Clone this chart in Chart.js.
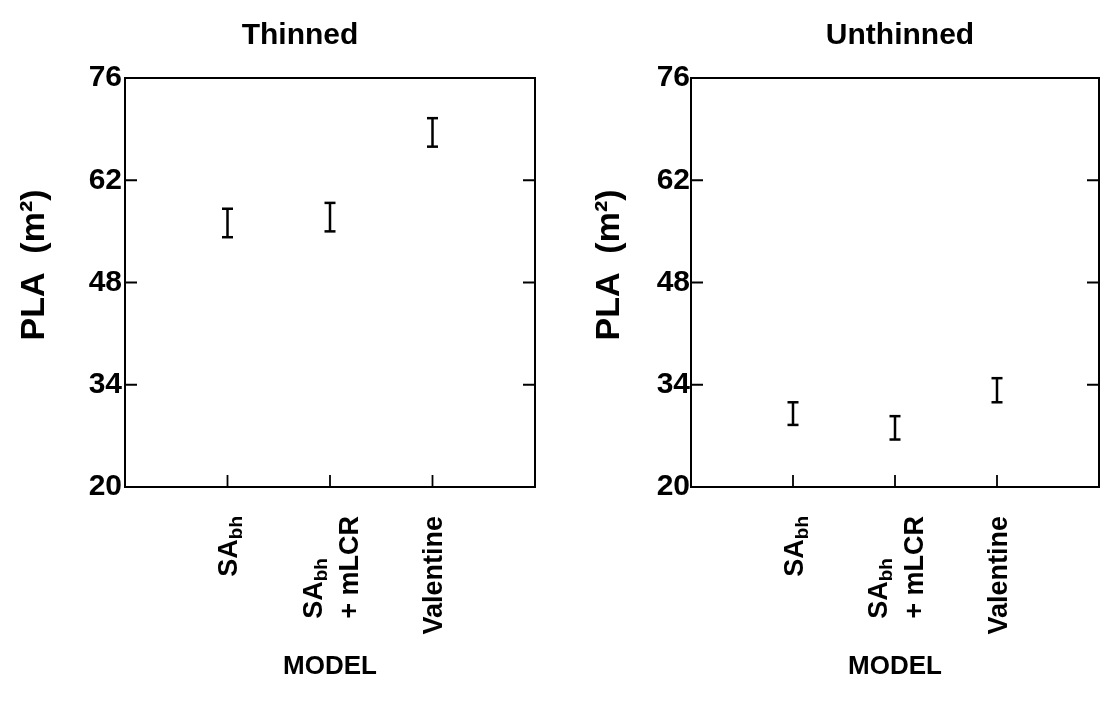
<!DOCTYPE html>
<html>
<head>
<meta charset="utf-8">
<script src="https://cdn.jsdelivr.net/npm/chart.js@4.4.1/dist/chart.umd.min.js"></script>
<style>
  html, body { margin: 0; padding: 0; background: #fff; }
  #wrap { position: relative; width: 1107px; height: 714px; }
  canvas { position: absolute; top: 0; }
</style>
</head>
<body>
<div id="wrap">
  <canvas id="left" width="553" height="714" style="left:0"></canvas>
  <canvas id="right" width="554" height="714" style="left:553px"></canvas>
</div>
<script>
// ---- data ----
const categories = [["SA_{bh}"], ["SA_{bh}", "+ mLCR"], ["Valentine"]];
const panelTitles = ["Thinned", "Unthinned"];
const yTickValues = [20, 34, 48, 62, 76];
const yAxisTitle = "PLA  (m\u00B2)";
const xAxisTitle = "MODEL";
const thinnedLow  = [54.2, 55.0, 66.6];
const thinnedHigh = [58.1, 58.9, 70.5];
const unthinnedLow  = [28.5, 26.5, 31.6];
const unthinnedHigh = [31.6, 29.7, 34.9];

const FONT = "'Liberation Sans', Arial, Helvetica, sans-serif";

function parseSegments(line) {
  const segs = [];
  const re = /_\{([^}]*)\}/g;
  let last = 0, m;
  while ((m = re.exec(line)) !== null) {
    if (m.index > last) segs.push({ t: line.slice(last, m.index), sub: false });
    segs.push({ t: m[1], sub: true });
    last = re.lastIndex;
  }
  if (last < line.length) segs.push({ t: line.slice(last), sub: false });
  return segs;
}

const framePlugin = {
  id: 'framePlugin',
  afterDraw(chart, args, opts) {
    const { ctx, chartArea: a, scales } = chart;
    const x = scales.x, y = scales.y;
    ctx.save();
    ctx.strokeStyle = '#000';
    ctx.lineWidth = 2;
    ctx.beginPath();
    ctx.moveTo(a.left, a.top);
    ctx.lineTo(a.right, a.top);
    ctx.lineTo(a.right, a.bottom);
    ctx.stroke();
    // inward ticks
    ctx.lineWidth = 1.8;
    const tl = 12;
    y.ticks.forEach(t => {
      if (t.value > y.min && t.value < y.max) {
        const py = y.getPixelForValue(t.value);
        ctx.beginPath();
        ctx.moveTo(a.left, py); ctx.lineTo(a.left + tl, py);
        ctx.moveTo(a.right, py); ctx.lineTo(a.right - tl, py);
        ctx.stroke();
      }
    });
    categories.forEach((c, i) => {
      const px = x.getPixelForValue(i + 1);
      ctx.beginPath();
      ctx.moveTo(px, a.bottom); ctx.lineTo(px, a.bottom - tl);
      ctx.stroke();
    });
    // category labels (rotated, with subscripts)
    ctx.fillStyle = '#000';
    const fs = 27, subFs = 19, lineSp = 36;
    const mainFont = 'bold ' + fs + 'px ' + FONT, subFont = 'bold ' + subFs + 'px ' + FONT;
    categories.forEach((lines, i) => {
      const px = x.getPixelForValue(i + 1);
      const parsed = lines.map(parseSegments);
      const widths = parsed.map(segs => segs.reduce((w, s) => {
        ctx.font = s.sub ? subFont : mainFont;
        return w + ctx.measureText(s.t).width;
      }, 0));
      const blockW = Math.max(...widths);
      ctx.save();
      ctx.translate(px, opts.labelTop);
      ctx.rotate(-Math.PI / 2);
      ctx.textAlign = 'left';
      ctx.textBaseline = 'alphabetic';
      const n = parsed.length;
      parsed.forEach((segs, j) => {
        const base = (j - (n - 1) / 2) * lineSp + fs * 0.36;
        let cx = -blockW;
        segs.forEach(s => {
          ctx.font = s.sub ? subFont : mainFont;
          ctx.fillText(s.t, cx, s.sub ? base + 5 : base);
          cx += ctx.measureText(s.t).width;
        });
      });
      ctx.restore();
    });
    // y-axis title
    ctx.save();
    ctx.font = 'bold 34px ' + FONT;
    ctx.textAlign = 'center';
    ctx.textBaseline = 'middle';
    ctx.translate(opts.yTitleX, opts.yTitleY);
    ctx.rotate(-Math.PI / 2);
    ctx.fillText(yAxisTitle, 0, 0);
    ctx.restore();
    // panel title
    ctx.font = 'bold 30px ' + FONT;
    ctx.textAlign = 'center';
    ctx.textBaseline = 'alphabetic';
    ctx.fillText(opts.title, opts.titleX, 44);
    ctx.restore();
  }
};

function makeChart(id, title, lows, highs, st) {
  const datasets = categories.map((c, i) => ({
    data: [{ x: i + 1, y: lows[i] }, { x: i + 1, y: highs[i] }],
    showLine: true,
    borderColor: '#000',
    borderWidth: 2.5,
    pointStyle: 'line',
    pointRadius: 5.5,
    pointBorderWidth: 2.5,
    pointBorderColor: '#000',
    pointBackgroundColor: '#000'
  }));
  return new Chart(document.getElementById(id), {
    type: 'scatter',
    data: { datasets },
    options: {
      responsive: false,
      animation: false,
      devicePixelRatio: 1,
      layout: { padding: { top: 78, right: st.padRight, bottom: 0, left: 0 } },
      plugins: {
        legend: { display: false },
        tooltip: { enabled: false },
        framePlugin: { title, titleX: st.titleX, labelTop: 516, yTitleX: st.yTitleX, yTitleY: 265 }
      },
      scales: {
        x: {
          type: 'linear', min: 0, max: 4,
          grid: { display: false, drawTicks: false },
          border: { display: true, color: '#000', width: 2 },
          ticks: { display: false },
          title: { display: true, text: xAxisTitle, color: '#000',
                   font: { family: FONT, size: 26, weight: 'bold' }, padding: { top: 0, bottom: 32 } },
          afterFit: s => { s.height = 227; }
        },
        y: {
          type: 'linear', min: yTickValues[0], max: yTickValues[yTickValues.length - 1],
          afterBuildTicks: s => { s.ticks = yTickValues.map(v => ({ value: v })); },
          grid: { display: false, drawTicks: false },
          border: { display: true, color: '#000', width: 2 },
          ticks: { color: '#000', padding: st.tickPad, font: { family: FONT, size: 30, weight: 'bold' },
                   callback: v => String(v) },
          afterFit: s => { s.width = st.yAxisWidth; }
        }
      }
    },
    plugins: [framePlugin]
  });
}

makeChart('left', panelTitles[0], thinnedLow, thinnedHigh,
  { yAxisWidth: 125, padRight: 18, yTitleX: 35, titleX: 300, tickPad: 3 });
makeChart('right', panelTitles[1], unthinnedLow, unthinnedHigh,
  { yAxisWidth: 138, padRight: 3, yTitleX: 57, titleX: 347, tickPad: 1 });
</script>
</body>
</html>
